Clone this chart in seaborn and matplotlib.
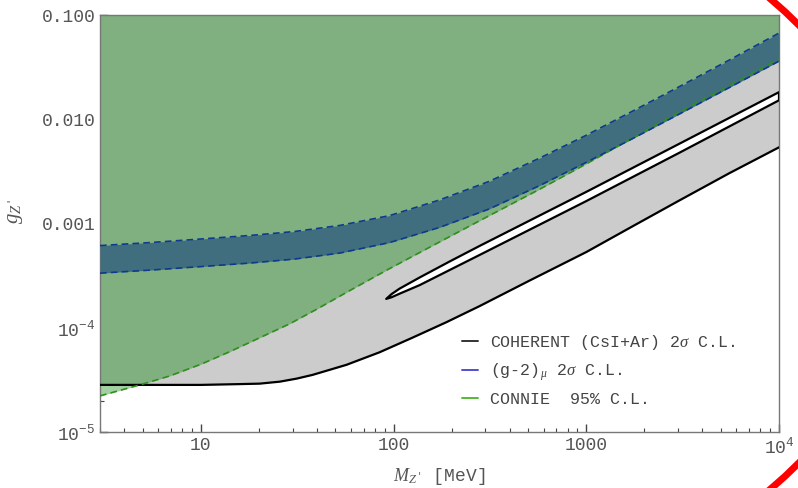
import numpy as np
import pandas as pd
import matplotlib
matplotlib.use("Agg")
import matplotlib.pyplot as plt
from matplotlib.lines import Line2D
from matplotlib.patches import Ellipse
import seaborn as sns

# ---------------- data ----------------
# COHERENT (CsI+Ar) lower exclusion boundary
coh_M = [3, 10, 15.9, 20.2, 25.7, 31.4, 38.0, 57.0, 84.5, 125, 188, 279, 507,
         1000, 1730, 3034, 5510, 10000]
coh_g = [2.83e-5, 2.83e-5, 2.88e-5, 2.91e-5, 3.04e-5, 3.25e-5, 3.53e-5, 4.41e-5,
         5.81e-5, 8.01e-5, 1.13e-4, 1.61e-4, 2.83e-4, 5.32e-4, 9.35e-4, 1.66e-3,
         3.03e-3, 5.38e-3]

# COHERENT allowed island (thin sliver)
isl_M_up = [91.6, 97.6, 107.4, 136.4, 195, 279, 1000, 3034, 10000]
isl_g_up = [1.89e-4, 2.10e-4, 2.37e-4, 3.03e-4, 4.31e-4, 6.08e-4, 2.01e-3, 5.81e-3, 1.82e-2]
isl_M_lo = [91.6, 97.6, 107.4, 136.4, 195, 279, 1000, 3034, 10000]
isl_g_lo = [1.89e-4, 1.96e-4, 2.12e-4, 2.56e-4, 3.57e-4, 4.98e-4, 1.64e-3, 4.76e-3, 1.52e-2]

# (g-2)_mu 2 sigma band
gm2_M = [3, 5.44, 10, 17.9, 30.7, 52.5, 95.3, 173, 314, 570, 1000, 1730, 3034, 5510, 10000]
gm2_up = [6.14e-4, 6.56e-4, 7.10e-4, 7.67e-4, 8.38e-4, 9.57e-4, 1.19e-3, 1.68e-3,
          2.54e-3, 4.22e-3, 7.02e-3, 1.19e-2, 2.05e-2, 3.69e-2, 6.71e-2]
gm2_lo = [3.34e-4, 3.57e-4, 3.86e-4, 4.17e-4, 4.56e-4, 5.20e-4, 6.56e-4, 9.16e-4,
          1.38e-3, 2.30e-3, 3.86e-3, 6.49e-3, 1.12e-2, 2.01e-2, 3.61e-2]

# CONNIE 95% C.L.
con_M = [3, 4.83, 6.91, 10, 14.1, 20.2, 28.9, 39.0, 59.2, 95.3, 173, 314, 570,
         1000, 1730, 3034, 5510, 10000]
con_g = [2.22e-5, 2.83e-5, 3.45e-5, 4.46e-5, 5.88e-5, 8.01e-5, 1.09e-4, 1.47e-4,
         2.27e-4, 3.69e-4, 6.64e-4, 1.19e-3, 2.12e-3, 3.73e-3, 6.56e-3, 1.17e-2,
         2.10e-2, 3.78e-2]

legend_labels = ["COHERENT (CsI+Ar) 2$\\sigma$ C.L.",
                 "(g-2)$_{\\mu}$ 2$\\sigma$ C.L.",
                 "CONNIE  95% C.L."]

x_ticks = [10, 100, 1000, 10000]
x_ticklabels = ["10", "100", "1000", r"$\mathregular{10^{4}}$"]
y_ticks = [1e-5, 1e-4, 1e-3, 1e-2, 1e-1]
y_ticklabels = [r"$\mathregular{10^{-5}}$", r"$\mathregular{10^{-4}}$", "0.001", "0.010", "0.100"]

# ---------------- style ----------------
sns.set_theme(style="white")
plt.rcParams["font.family"] = ["Liberation Mono", "DejaVu Sans"]
plt.rcParams["mathtext.fontset"] = "custom"
plt.rcParams["mathtext.rm"] = "Liberation Mono"
plt.rcParams["mathtext.it"] = "Liberation Serif:italic"
plt.rcParams["mathtext.sf"] = "Liberation Mono"

fig = plt.figure(figsize=(7.98, 4.88), dpi=100)
ax = fig.add_axes([100 / 798, 1 - 432 / 488, 679 / 798, 417 / 488])

TOP = 0.1
ax.fill_between(coh_M, coh_g, TOP, color="#cccccc", lw=0, zorder=1)
ax.fill_between(con_M, con_g, TOP, color="#008000", alpha=0.37, lw=0, zorder=2)
ax.fill_between(gm2_M, gm2_lo, gm2_up, color="#416e7e", lw=0, zorder=3)

isl_x = list(isl_M_up) + list(isl_M_lo[::-1])
isl_y = list(isl_g_up) + list(isl_g_lo[::-1])
ax.fill(isl_x, isl_y, facecolor="white", edgecolor="black", lw=1.6, zorder=4,
        joinstyle="round")

df_coh = pd.DataFrame({"M": coh_M, "g": coh_g})
sns.lineplot(data=df_coh, x="M", y="g", color="black", lw=1.6, ax=ax, zorder=4, sort=False)

df_con = pd.DataFrame({"M": con_M, "g": con_g})
sns.lineplot(data=df_con, x="M", y="g", color="#2f8f1c", lw=1.2, ax=ax, zorder=5,
             sort=False, linestyle=(0, (4, 2.5)))

for arr in (gm2_up, gm2_lo):
    d = pd.DataFrame({"M": gm2_M, "g": arr})
    sns.lineplot(data=d, x="M", y="g", color="#0d3a8e", lw=1.2, ax=ax, zorder=6,
                 sort=False, linestyle=(0, (4, 2.5)))

ax.set_xscale("log")
ax.set_yscale("log")
ax.set_xlim(3, 1e4)
ax.set_ylim(1e-5, 0.1)

ax.set_xticks(x_ticks)
ax.set_xticklabels(x_ticklabels)
ax.set_yticks(y_ticks)
ax.set_yticklabels(y_ticklabels)
ax.xaxis.set_minor_locator(matplotlib.ticker.LogLocator(base=10, subs=np.arange(2, 10)))
ax.yaxis.set_minor_locator(matplotlib.ticker.LogLocator(base=10, subs=np.arange(2, 10)))
ax.xaxis.set_minor_formatter(matplotlib.ticker.NullFormatter())
ax.yaxis.set_minor_formatter(matplotlib.ticker.NullFormatter())
ax.tick_params(which="both", direction="in", top=False, right=False,
               left=True, bottom=True, color="#444444", labelcolor="#555555",
               labelsize=13)
ax.tick_params(which="major", length=6, width=1)
ax.tick_params(which="minor", length=3, width=0.8)
for s in ax.spines.values():
    s.set_color("#777777")
    s.set_linewidth(1.0)

ax.set_xlabel(r"$M_{Z'}$ [MeV]", fontsize=13, color="#555555", labelpad=6)
ax.set_ylabel(r"$g_{Z'}$", fontsize=15, color="#555555")
ax.yaxis.set_label_coords(-0.11, 0.53)

handles = [Line2D([], [], color="#333333", lw=1.4),
           Line2D([], [], color="#5050d0", lw=1.4),
           Line2D([], [], color="#55bb33", lw=1.4)]
leg = ax.legend(handles, legend_labels, loc="upper left",
                bbox_to_anchor=((462 - 100) / 679, (432 - 333) / 417),
                borderaxespad=0, borderpad=0,
                frameon=False, fontsize=12, handlelength=0.96, handletextpad=0.72,
                labelspacing=0.55, labelcolor="#444444")
leg.set_zorder(10)

# red ring fragment at the right edge
ring = Ellipse((370 / 798, 1 - 244 / 488), 2 * 526 / 798, 2 * 378 / 488,
               transform=fig.transFigure, fill=False, edgecolor="red", lw=5,
               clip_on=False)
fig.add_artist(ring)

fig.savefig("out.png", dpi=100)
